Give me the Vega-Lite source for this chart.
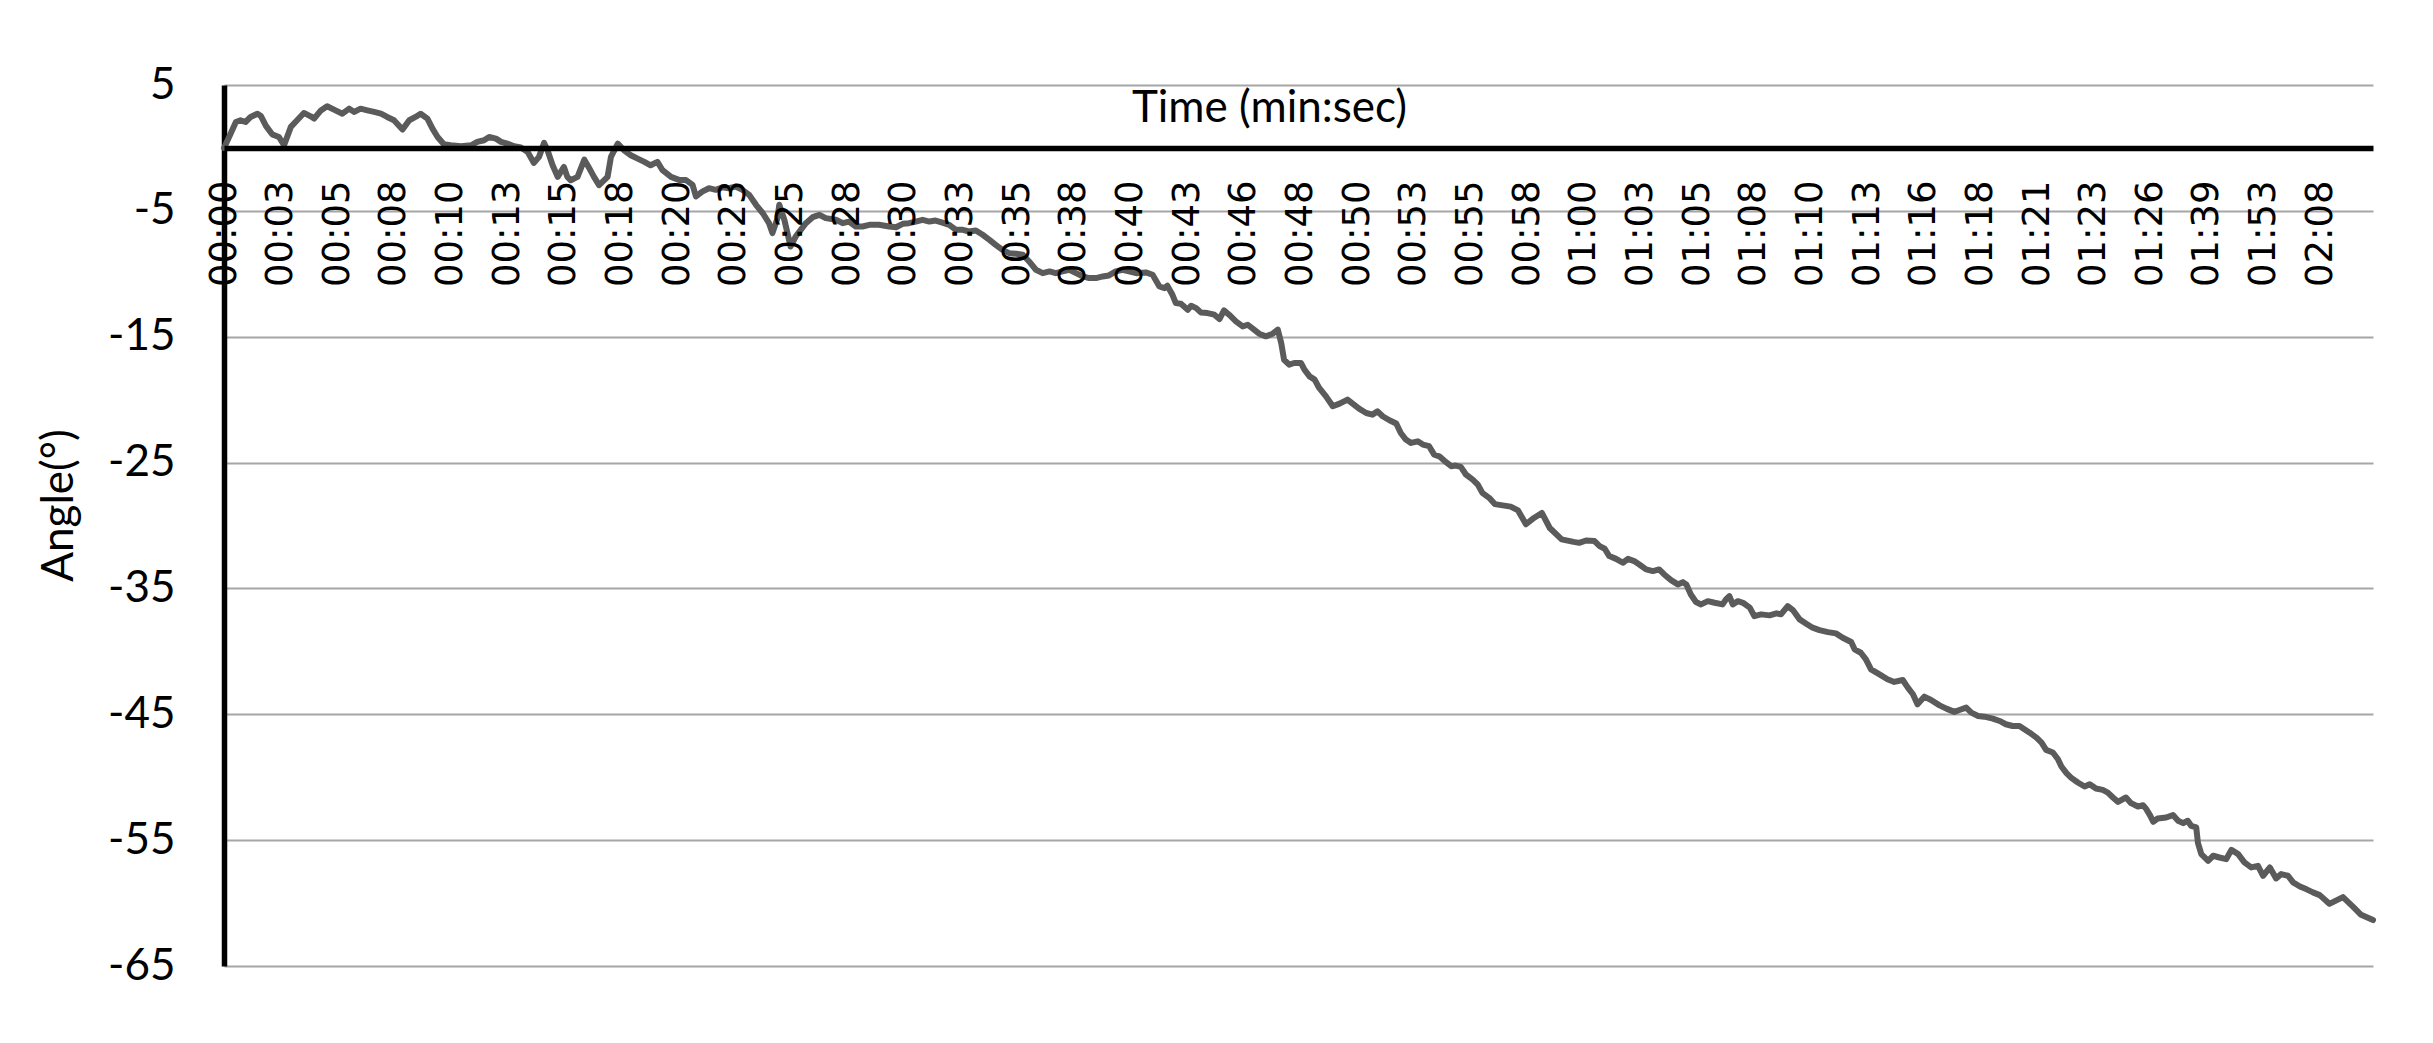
{
  "$schema": "https://vega.github.io/schema/vega-lite/v6.json",
  "width": 2149,
  "height": 881,
  "autosize": {"type": "none"},
  "padding": {"left": 224, "top": 85, "right": 60, "bottom": 77},
  "background": "white",
  "config": {"view": {"stroke": null}},
  "data": {"values": [
    {"idx":0,"angle":0},{"idx":0.09,"angle":0.87},{"idx":0.21,"angle":2.06},{"idx":0.29,"angle":2.19},{"idx":0.38,"angle":2.06},{"idx":0.47,"angle":2.46},{"idx":0.59,"angle":2.72},{"idx":0.65,"angle":2.54},{"idx":0.74,"angle":1.75},{"idx":0.85,"angle":1.08},{"idx":0.97,"angle":0.87},{"idx":1.06,"angle":0.21},{"idx":1.18,"angle":1.67},{"idx":1.29,"angle":2.2},{"idx":1.41,"angle":2.78},{"idx":1.53,"angle":2.51},{"idx":1.59,"angle":2.33},{"idx":1.71,"angle":2.98},{"idx":1.82,"angle":3.31},{"idx":1.94,"angle":3.04},{"idx":2.09,"angle":2.72},{"idx":2.21,"angle":3.12},{"idx":2.3,"angle":2.86},{"idx":2.41,"angle":3.12},{"idx":2.53,"angle":2.99},{"idx":2.65,"angle":2.86},{"idx":2.77,"angle":2.72},{"idx":2.88,"angle":2.46},{"idx":3.0,"angle":2.2},{"idx":3.15,"angle":1.46},{"idx":3.27,"angle":2.2},{"idx":3.38,"angle":2.46},{"idx":3.47,"angle":2.72},{"idx":3.59,"angle":2.33},{"idx":3.68,"angle":1.53},{"idx":3.77,"angle":0.87},{"idx":3.88,"angle":0.29},{"idx":4.0,"angle":0.21},{"idx":4.18,"angle":0.13},{"idx":4.36,"angle":0.21},{"idx":4.47,"angle":0.48},{"idx":4.59,"angle":0.61},{"idx":4.68,"angle":0.87},{"idx":4.8,"angle":0.74},{"idx":4.89,"angle":0.48},{"idx":5.0,"angle":0.34},{"idx":5.12,"angle":0.13},{"idx":5.24,"angle":0.03},{"idx":5.36,"angle":-0.32},{"idx":5.47,"angle":-1.19},{"idx":5.56,"angle":-0.71},{"idx":5.65,"angle":0.4},{"idx":5.71,"angle":-0.19},{"idx":5.8,"angle":-1.38},{"idx":5.89,"angle":-2.3},{"idx":6.0,"angle":-1.51},{"idx":6.06,"angle":-2.3},{"idx":6.12,"angle":-2.57},{"idx":6.24,"angle":-2.3},{"idx":6.36,"angle":-0.93},{"idx":6.45,"angle":-1.64},{"idx":6.53,"angle":-2.3},{"idx":6.62,"angle":-2.96},{"idx":6.77,"angle":-2.3},{"idx":6.83,"angle":-0.71},{"idx":6.95,"angle":0.34},{"idx":7.06,"angle":-0.19},{"idx":7.18,"angle":-0.58},{"idx":7.3,"angle":-0.85},{"idx":7.42,"angle":-1.11},{"idx":7.53,"angle":-1.38},{"idx":7.65,"angle":-1.11},{"idx":7.74,"angle":-1.77},{"idx":7.89,"angle":-2.3},
    {"idx":8.03,"angle":-2.54},{"idx":8.15,"angle":-2.54},{"idx":8.27,"angle":-2.94},{"idx":8.33,"angle":-3.86},{"idx":8.44,"angle":-3.47},{"idx":8.56,"angle":-3.2},{"idx":8.68,"angle":-3.33},{"idx":8.8,"angle":-3.12},{"idx":8.91,"angle":-3.2},{"idx":9.03,"angle":-3.07},{"idx":9.15,"angle":-3.33},{"idx":9.27,"angle":-3.73},{"idx":9.39,"angle":-4.52},{"idx":9.51,"angle":-5.19},{"idx":9.62,"angle":-5.98},{"idx":9.68,"angle":-6.77},{"idx":9.77,"angle":-5.58},{"idx":9.8,"angle":-4.52},{"idx":9.89,"angle":-5.71},{"idx":10.0,"angle":-7.83},{"idx":10.09,"angle":-7.04},{"idx":10.18,"angle":-6.51},{"idx":10.27,"angle":-5.98},{"idx":10.39,"angle":-5.5},{"idx":10.51,"angle":-5.32},{"idx":10.62,"angle":-5.58},{"idx":10.8,"angle":-5.71},{"idx":10.92,"angle":-5.98},{"idx":11.03,"angle":-5.85},{"idx":11.15,"angle":-6.24},{"idx":11.27,"angle":-6.24},{"idx":11.39,"angle":-6.11},{"idx":11.56,"angle":-6.11},{"idx":11.74,"angle":-6.24},{"idx":11.86,"angle":-6.3},{"idx":11.98,"angle":-6.03},{"idx":12.09,"angle":-5.98},{"idx":12.21,"angle":-5.85},{"idx":12.33,"angle":-5.71},{"idx":12.45,"angle":-5.85},{"idx":12.56,"angle":-5.77},{"idx":12.68,"angle":-5.93},{"idx":12.8,"angle":-6.11},{"idx":12.92,"angle":-6.51},{"idx":13.04,"angle":-6.51},{"idx":13.15,"angle":-6.64},{"idx":13.27,"angle":-6.56},{"idx":13.39,"angle":-6.9},{"idx":13.51,"angle":-7.3},{"idx":13.62,"angle":-7.7},{"idx":13.74,"angle":-8.1},{"idx":13.86,"angle":-8.36},{"idx":13.98,"angle":-8.41},{"idx":14.1,"angle":-8.49},{"idx":14.21,"angle":-9.02},{"idx":14.33,"angle":-9.68},{"idx":14.45,"angle":-9.95},{"idx":14.57,"angle":-9.81},{"idx":14.68,"angle":-9.95},{"idx":14.8,"angle":-9.81},{"idx":14.92,"angle":-9.68},{"idx":15.04,"angle":-9.95},{"idx":15.16,"angle":-10.21},{"idx":15.27,"angle":-10.34},{"idx":15.39,"angle":-10.34},{"idx":15.51,"angle":-10.21},{"idx":15.62,"angle":-10.13},{"idx":15.74,"angle":-9.81},{"idx":15.86,"angle":-9.68},
    {"idx":16.1,"angle":-9.95},{"idx":16.27,"angle":-9.89},{"idx":16.39,"angle":-10.08},{"idx":16.51,"angle":-11.01},{"idx":16.6,"angle":-11.14},{"idx":16.65,"angle":-10.95},{"idx":16.74,"angle":-11.67},{"idx":16.8,"angle":-12.33},{"idx":16.89,"angle":-12.38},{"idx":17.01,"angle":-12.86},{"idx":17.07,"angle":-12.54},{"idx":17.16,"angle":-12.73},{"idx":17.24,"angle":-13.07},{"idx":17.36,"angle":-13.12},{"idx":17.48,"angle":-13.25},{"idx":17.57,"angle":-13.6},{"idx":17.65,"angle":-12.91},{"idx":17.74,"angle":-13.25},{"idx":17.86,"angle":-13.78},{"idx":17.98,"angle":-14.18},{"idx":18.07,"angle":-14.05},{"idx":18.18,"angle":-14.44},{"idx":18.27,"angle":-14.76},{"idx":18.39,"angle":-14.97},{"idx":18.51,"angle":-14.76},{"idx":18.6,"angle":-14.44},{"idx":18.66,"angle":-15.5},{"idx":18.71,"angle":-16.83},{"idx":18.8,"angle":-17.22},{"idx":18.89,"angle":-17.09},{"idx":19.01,"angle":-17.09},{"idx":19.07,"angle":-17.62},{"idx":19.16,"angle":-18.15},{"idx":19.25,"angle":-18.41},{"idx":19.33,"angle":-19.07},{"idx":19.45,"angle":-19.74},{"idx":19.57,"angle":-20.53},{"idx":19.69,"angle":-20.32},{"idx":19.83,"angle":-20.0},{"idx":19.92,"angle":-20.32},{"idx":20.04,"angle":-20.74},{"idx":20.16,"angle":-21.06},{"idx":20.27,"angle":-21.19},{"idx":20.36,"angle":-20.93},{"idx":20.45,"angle":-21.32},{"idx":20.57,"angle":-21.64},{"idx":20.69,"angle":-21.9},{"idx":20.77,"angle":-22.65},{"idx":20.86,"angle":-23.17},{"idx":20.95,"angle":-23.44},{"idx":21.07,"angle":-23.31},{"idx":21.16,"angle":-23.57},{"idx":21.27,"angle":-23.7},{"idx":21.36,"angle":-24.37},{"idx":21.45,"angle":-24.5},{"idx":21.57,"angle":-24.97},{"idx":21.66,"angle":-25.29},{"idx":21.74,"angle":-25.24},{"idx":21.83,"angle":-25.34},{"idx":21.92,"angle":-25.95},{"idx":22.04,"angle":-26.35},{"idx":22.13,"angle":-26.75},{"idx":22.21,"angle":-27.41},{"idx":22.33,"angle":-27.8},
    {"idx":22.43,"angle":-28.3},{"idx":22.71,"angle":-28.5},{"idx":22.84,"angle":-28.8},{"idx":22.98,"angle":-29.9},{"idx":23.12,"angle":-29.4},{"idx":23.26,"angle":-29.0},{"idx":23.4,"angle":-30.2},{"idx":23.61,"angle":-31.1},{"idx":23.82,"angle":-31.3},
    {"idx":23.92,"angle":-31.38},{"idx":24.04,"angle":-31.19},{"idx":24.19,"angle":-31.24},{"idx":24.28,"angle":-31.64},{"idx":24.37,"angle":-31.85},{"idx":24.45,"angle":-32.43},{"idx":24.57,"angle":-32.65},{"idx":24.69,"angle":-32.96},{"idx":24.78,"angle":-32.65},{"idx":24.89,"angle":-32.83},{"idx":24.98,"angle":-33.1},{"idx":25.1,"angle":-33.49},{"idx":25.22,"angle":-33.62},{"idx":25.33,"angle":-33.49},{"idx":25.42,"angle":-33.89},{"idx":25.54,"angle":-34.34},{"idx":25.66,"angle":-34.68},{"idx":25.75,"angle":-34.5},{"idx":25.81,"angle":-34.68},{"idx":25.89,"angle":-35.48},{"idx":25.98,"angle":-36.08},{"idx":26.07,"angle":-36.27},{"idx":26.19,"angle":-36.01},{"idx":26.31,"angle":-36.14},{"idx":26.45,"angle":-36.27},{"idx":26.51,"angle":-35.87},{"idx":26.57,"angle":-35.61},{"idx":26.63,"angle":-36.27},{"idx":26.72,"angle":-36.01},{"idx":26.81,"angle":-36.14},{"idx":26.93,"angle":-36.53},{"idx":27.01,"angle":-37.2},{"idx":27.13,"angle":-37.06},{"idx":27.28,"angle":-37.14},{"idx":27.4,"angle":-36.98},{"idx":27.48,"angle":-37.06},{"idx":27.6,"angle":-36.4},{"idx":27.69,"angle":-36.72},{"idx":27.81,"angle":-37.46},{"idx":27.92,"angle":-37.78},{"idx":28.04,"angle":-38.12},{"idx":28.16,"angle":-38.31},{"idx":28.31,"angle":-38.47},{"idx":28.45,"angle":-38.57},{"idx":28.57,"angle":-38.92},{"idx":28.72,"angle":-39.26},{"idx":28.78,"angle":-39.84},{"idx":28.89,"angle":-40.11},{"idx":28.98,"angle":-40.63},{"idx":29.07,"angle":-41.43},{"idx":29.22,"angle":-41.83},{"idx":29.36,"angle":-42.22},{"idx":29.48,"angle":-42.43},{"idx":29.63,"angle":-42.28},{"idx":29.72,"angle":-42.88},{"idx":29.81,"angle":-43.41},{"idx":29.89,"angle":-44.21},{"idx":30.01,"angle":-43.6},{"idx":30.13,"angle":-43.86},{"idx":30.28,"angle":-44.29},{"idx":30.4,"angle":-44.55},{"idx":30.54,"angle":-44.81},{"idx":30.63,"angle":-44.66},{"idx":30.75,"angle":-44.47},{"idx":30.84,"angle":-44.87},{"idx":30.96,"angle":-45.13},{"idx":31.07,"angle":-45.19},{"idx":31.22,"angle":-45.34},{"idx":31.34,"angle":-45.53},{"idx":31.45,"angle":-45.79},{"idx":31.57,"angle":-45.93},{"idx":31.69,"angle":-45.93},
    {"idx":31.87,"angle":-46.46},{"idx":31.99,"angle":-46.85},{"idx":32.08,"angle":-47.25},{"idx":32.16,"angle":-47.83},{"idx":32.28,"angle":-48.04},{"idx":32.37,"angle":-48.57},{"idx":32.43,"angle":-49.15},{"idx":32.52,"angle":-49.68},{"idx":32.6,"angle":-50.03},{"idx":32.72,"angle":-50.42},{"idx":32.84,"angle":-50.74},{"idx":32.93,"angle":-50.56},{"idx":33.04,"angle":-50.9},{"idx":33.16,"angle":-51.01},{"idx":33.25,"angle":-51.22},{"idx":33.34,"angle":-51.61},{"idx":33.43,"angle":-51.96},{"idx":33.57,"angle":-51.61},{"idx":33.66,"angle":-52.06},{"idx":33.78,"angle":-52.33},{"idx":33.87,"angle":-52.22},{"idx":33.93,"angle":-52.54},{"idx":34.0,"angle":-53.07},{"idx":34.05,"angle":-53.54},{"idx":34.13,"angle":-53.28},{"idx":34.28,"angle":-53.2},{"idx":34.4,"angle":-53.01},{"idx":34.49,"angle":-53.46},{"idx":34.58,"angle":-53.65},{"idx":34.66,"angle":-53.46},{"idx":34.72,"angle":-53.86},{"idx":34.81,"angle":-53.99},{"idx":34.84,"angle":-55.21},{"idx":34.9,"angle":-56.11},{"idx":35.02,"angle":-56.64},{"idx":35.11,"angle":-56.24},{"idx":35.22,"angle":-56.38},{"idx":35.34,"angle":-56.51},{"idx":35.43,"angle":-55.77},{"idx":35.55,"angle":-56.11},{"idx":35.66,"angle":-56.77},{"idx":35.78,"angle":-57.17},{"idx":35.9,"angle":-57.04},{"idx":35.99,"angle":-57.83},{"idx":36.11,"angle":-57.17},{"idx":36.22,"angle":-58.04},{"idx":36.31,"angle":-57.7},{"idx":36.43,"angle":-57.83},{"idx":36.52,"angle":-58.36},{"idx":36.64,"angle":-58.68},{"idx":36.75,"angle":-58.89},{"idx":36.87,"angle":-59.15},{"idx":36.99,"angle":-59.37},{"idx":37.16,"angle":-60.06},{"idx":37.4,"angle":-59.53},{"idx":37.58,"angle":-60.3},{"idx":37.72,"angle":-60.93},{"idx":37.93,"angle":-61.35}
  ]},
  "mark": {"type": "line", "color": "#5b5b5b", "strokeWidth": 6, "strokeJoin": "round", "strokeCap": "round", "clip": false},
  "encoding": {
    "x": {
      "field": "idx",
      "type": "quantitative",
      "scale": {"domain": [0, 37.93], "nice": false, "zero": false},
      "axis": {
        "values": [0,1,2,3,4,5,6,7,8,9,10,11,12,13,14,15,16,17,18,19,20,21,22,23,24,25,26,27,28,29,30,31,32,33,34,35,36,37],
        "labelExpr": "['00:00','00:03','00:05','00:08','00:10','00:13','00:15','00:18','00:20','00:23','00:25','00:28','00:30','00:33','00:35','00:38','00:40','00:43','00:46','00:48','00:50','00:53','00:55','00:58','01:00','01:03','01:05','01:08','01:10','01:13','01:16','01:18','01:21','01:23','01:26','01:39','01:53','02:08'][datum.value]",
        "title": "Time (min:sec)",
        "offset": -818.07,
        "domainColor": "black",
        "domainWidth": 5.5,
        "ticks": false,
        "grid": false,
        "labelAngle": 270,
        "labelAlign": "right",
        "labelBaseline": "middle",
        "labelPadding": 32,
        "labelFont": "DejaVu Sans",
        "labelFontSize": 37,
        "labelColor": "black",
        "labelOverlap": false,
        "labelBound": false,
        "labelFlush": false,
        "titleFont": "Lato",
        "titleFontSize": 44,
        "titleFontWeight": "normal",
        "titleColor": "black",
        "titleX": 1045,
        "titleY": -26,
        "titleAlign": "center",
        "titleBaseline": "alphabetic",
        "zindex": 1
      }
    },
    "y": {
      "field": "angle",
      "type": "quantitative",
      "scale": {"domain": [-65, 5], "nice": false, "zero": false},
      "axis": {
        "values": [5, -5, -15, -25, -35, -45, -55, -65],
        "labelExpr": "'' + datum.value",
        "title": "Angle(°)",
        "domainColor": "black",
        "domainWidth": 5.5,
        "ticks": false,
        "grid": true,
        "gridColor": "#a6a6a6",
        "gridWidth": 2,
        "labelPadding": 49,
        "labelFont": "Lato",
        "labelFontSize": 44,
        "labelColor": "black",
        "labelOverlap": false,
        "labelBound": false,
        "labelFlush": false,
        "titleFont": "Lato",
        "titleFontSize": 44,
        "titleFontWeight": "normal",
        "titleColor": "black",
        "titleAngle": 270,
        "titleX": -152,
        "titleY": 420,
        "titleAlign": "center",
        "titleBaseline": "alphabetic"
      }
    }
  }
}
